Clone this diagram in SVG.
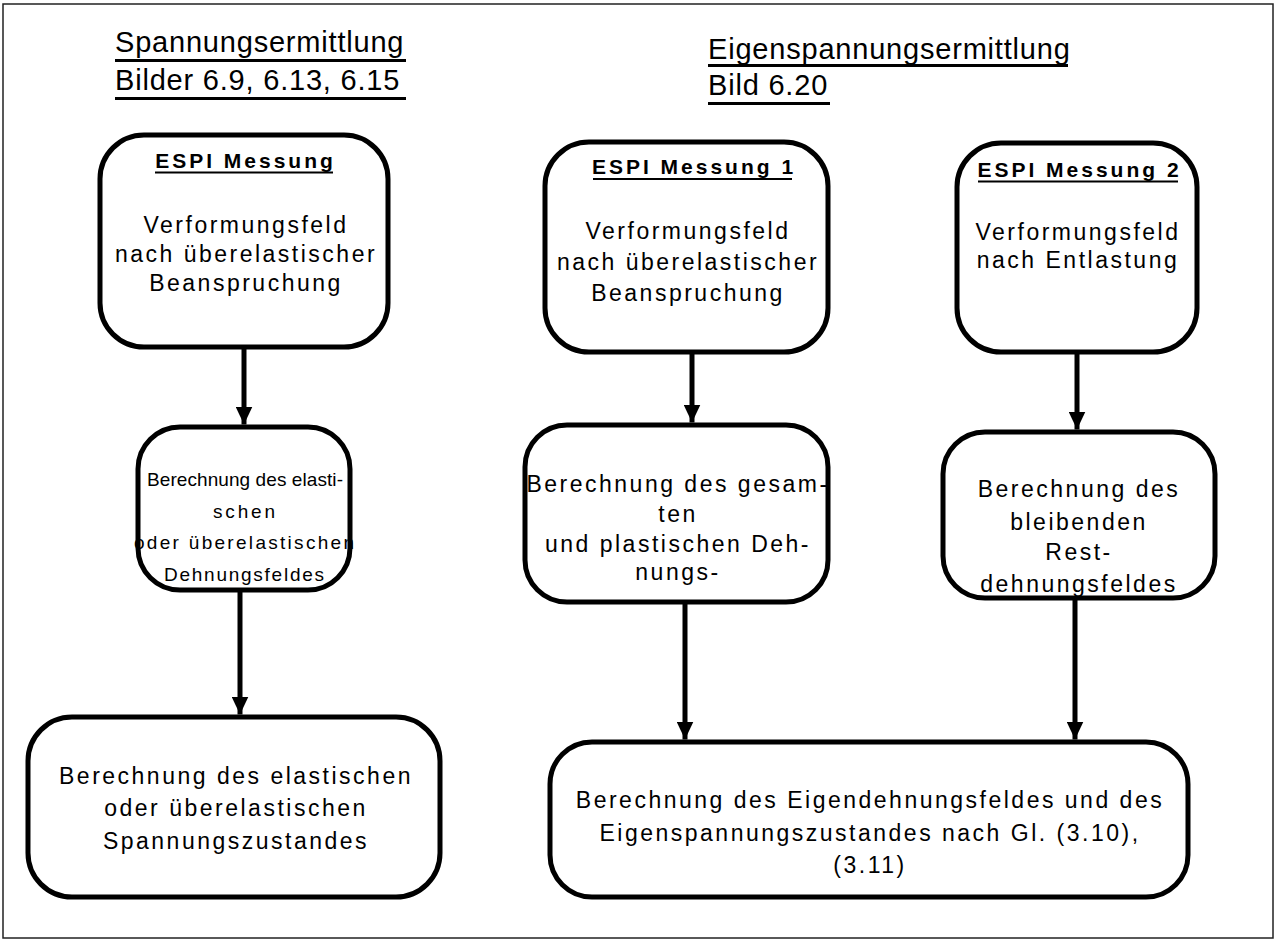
<svg xmlns="http://www.w3.org/2000/svg" width="1276" height="944" viewBox="0 0 1276 944">
<defs>
<style>
.frame{fill:none;stroke:#222;stroke-width:1.5}
.box{fill:#fff;stroke:#000;stroke-width:5}
.boxfill{fill:#fff;stroke:none}
.boxline{fill:none;stroke:#000;stroke-width:5}
.t{font-family:"Liberation Sans",Arial,sans-serif;font-size:23px;letter-spacing:2.5px;fill:#000;text-anchor:middle}
.ts{font-family:"Liberation Sans",Arial,sans-serif;font-size:19px;fill:#000;text-anchor:middle}
.tb{font-family:"Liberation Sans",Arial,sans-serif;font-size:21px;font-weight:bold;letter-spacing:3px;fill:#000;text-anchor:middle}
.title{font-family:"Liberation Sans",Arial,sans-serif;font-size:29px;letter-spacing:0.8px;fill:#000}
.ul{fill:#000}
.conn{stroke:#000;stroke-width:5;fill:none;marker-end:url(#ah)}
</style>
<marker id="ah" viewBox="0 0 18 17" refX="18" refY="8.5" markerWidth="18" markerHeight="17" markerUnits="userSpaceOnUse" orient="auto">
<path d="M0,0 L18,8.5 L0,17 z" fill="#000"/>
</marker>
</defs>
<rect width="1276" height="944" fill="#fff"/>
<rect class="frame" x="3" y="4" width="1270" height="934"/>

<g id="title-left">
<text class="title" x="115" y="52">Spannungsermittlung</text>
<rect class="ul" x="115" y="59" width="291" height="3"/>
<text class="title" x="115" y="90">Bilder 6.9, 6.13, 6.15</text>
<rect class="ul" x="115" y="97" width="291" height="3"/>
</g>

<g id="title-right">
<text class="title" x="708" y="59">Eigenspannungsermittlung</text>
<rect class="ul" x="708" y="64" width="360" height="3"/>
<text class="title" x="708" y="95">Bild 6.20</text>
<rect class="ul" x="708" y="102" width="122" height="3"/>
</g>

<g id="connectors">
<line class="conn" x1="244" y1="349" x2="244" y2="424.5"/>
<line class="conn" x1="240" y1="592" x2="240" y2="714.5"/>
<line class="conn" x1="692" y1="354" x2="692" y2="422.5"/>
<line class="conn" x1="685" y1="604" x2="685" y2="739.5"/>
<line class="conn" x1="1077" y1="354" x2="1077" y2="429.5"/>
<line class="conn" x1="1075" y1="600" x2="1075" y2="739.5"/>
</g>

<g id="n1">
<rect class="box" x="100" y="135" width="288" height="212" rx="44"/>
<text class="tb" x="245.5" y="168">ESPI Messung</text>
<rect class="ul" x="155" y="171.5" width="178" height="2"/>
<text class="t" x="246" y="233">Verformungsfeld</text>
<text class="t" x="246" y="262">nach überelastischer</text>
<text class="t" x="246" y="291">Beanspruchung</text>
</g>

<g id="n2">
<rect class="box" x="138" y="427" width="212" height="163" rx="42"/>
<text class="ts" x="245" y="486" textLength="196">Berechnung des elasti-</text>
<text class="ts" x="244" y="518" textLength="62">schen</text>
<text class="ts" x="244" y="549" textLength="220">oder überelastischen</text>
<text class="ts" x="244" y="581" textLength="160">Dehnungsfeldes</text>
</g>

<g id="n3">
<rect class="box" x="28" y="717" width="412" height="180" rx="44"/>
<text class="t" x="236" y="784">Berechnung des  elastischen</text>
<text class="t" x="236" y="816">oder überelastischen</text>
<text class="t" x="236" y="849">Spannungszustandes</text>
</g>

<g id="n4">
<rect class="box" x="545" y="142" width="283" height="210" rx="44"/>
<text class="tb" x="694" y="174">ESPI Messung 1</text>
<rect class="ul" x="593" y="178" width="199" height="2"/>
<text class="t" x="688" y="239">Verformungsfeld</text>
<text class="t" x="688" y="270">nach überelastischer</text>
<text class="t" x="688" y="301">Beanspruchung</text>
</g>

<g id="n5">
<rect class="box" x="525" y="425" width="303" height="177" rx="42"/>
<text class="t" x="678" y="492">Berechnung des gesam-</text>
<text class="t" x="678" y="522">ten</text>
<text class="t" x="678" y="552">und plastischen Deh-</text>
<text class="t" x="678" y="580">nungs-</text>
</g>

<g id="n6">
<rect class="box" x="957" y="143" width="240" height="209" rx="44"/>
<text class="tb" x="1079.5" y="177">ESPI Messung 2</text>
<rect class="ul" x="978" y="180.5" width="200" height="2"/>
<text class="t" x="1078" y="240">Verformungsfeld</text>
<text class="t" x="1078" y="268">nach Entlastung</text>
</g>

<g id="n7">
<rect class="boxfill" x="943" y="432" width="272" height="166" rx="42"/>
<text class="t" x="1079" y="497">Berechnung des</text>
<text class="t" x="1079" y="530">bleibenden</text>
<text class="t" x="1079" y="560">Rest-</text>
<text class="t" x="1079" y="592">dehnungsfeldes</text>
<rect class="boxline" x="943" y="432" width="272" height="166" rx="42"/>
</g>

<g id="n8">
<rect class="box" x="550" y="742" width="638" height="155" rx="42"/>
<text class="t" x="870" y="808">Berechnung des Eigendehnungsfeldes und des</text>
<text class="t" x="870" y="841">Eigenspannungszustandes nach Gl. (3.10),</text>
<text class="t" x="870" y="873">(3.11)</text>
</g>
</svg>
